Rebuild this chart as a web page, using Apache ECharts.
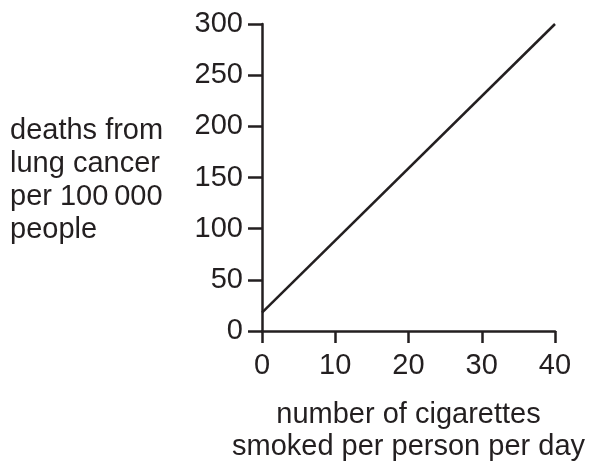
<!DOCTYPE html>
<html>
<head>
<meta charset="utf-8">
<script src="https://cdn.jsdelivr.net/npm/echarts@6/dist/echarts.min.js"></script>
<style>
html,body{margin:0;padding:0;background:#fff;}
#chart{width:592px;height:462px;}
</style>
</head>
<body>
<div id="chart"></div>
<script>
const cigarettes = [0, 40];
const deaths = [18, 300];
const xTicks = [0, 10, 20, 30, 40];
const yTicks = [0, 50, 100, 150, 200, 250, 300];
const yTitleLines = ['deaths from', 'lung cancer', 'per 100\u2009000', 'people'];
const xTitleLines = ['number of cigarettes', 'smoked per person per day'];

const ink = '#231f20';
const font = 'Liberation Sans, Arial, Helvetica, sans-serif';
const fs = 29;

const chart = echarts.init(document.getElementById('chart'));
chart.setOption({
  animation: false,
  backgroundColor: '#fff',
  grid: {left: 262, right: 37, top: 24, bottom: 131, containLabel: false, outerBoundsMode: 'none'},
  xAxis: {
    type: 'value', min: xTicks[0], max: xTicks[xTicks.length - 1], interval: 10,
    splitLine: {show: false},
    axisLine: {show: true, lineStyle: {color: ink, width: 2.5}},
    axisTick: {show: true, inside: false, length: 12, lineStyle: {color: ink, width: 2.5}},
    axisLabel: {color: ink, fontSize: fs, fontFamily: font, margin: 20},
    name: xTitleLines.join('\n'),
    nameLocation: 'middle', nameGap: 68,
    nameTextStyle: {color: ink, fontSize: fs, fontFamily: font, lineHeight: 32}
  },
  yAxis: {
    type: 'value', min: yTicks[0], max: yTicks[yTicks.length - 1], interval: 50,
    splitLine: {show: false},
    axisLine: {show: true, lineStyle: {color: ink, width: 2.5}},
    axisTick: {show: true, inside: false, length: 14, lineStyle: {color: ink, width: 2.5}},
    axisLabel: {color: ink, fontSize: fs, fontFamily: font, margin: 19}
  },
  graphic: [{
    type: 'text', left: 10, top: 114,
    style: {text: yTitleLines.join('\n'), fill: ink, font: fs + 'px ' + font, lineHeight: 33}
  }],
  series: [{
    type: 'line',
    data: cigarettes.map((c, i) => [c, deaths[i]]),
    symbol: 'none',
    lineStyle: {color: ink, width: 2.5}
  }]
});
</script>
</body>
</html>
